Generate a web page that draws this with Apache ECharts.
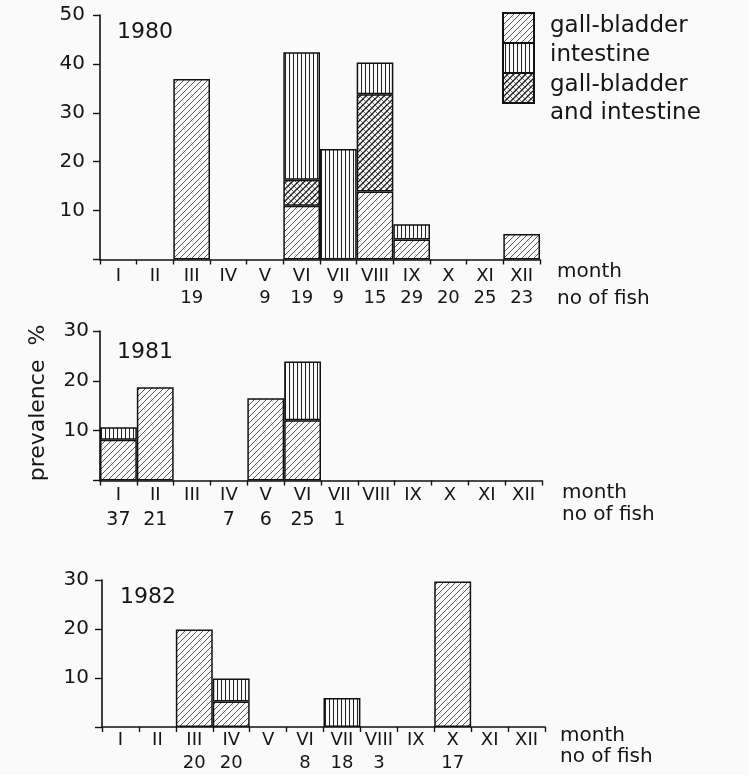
<!DOCTYPE html>
<html>
<head>
<meta charset="utf-8">
<script src="https://cdn.jsdelivr.net/npm/echarts@6/dist/echarts.min.js"></script>
<style>html,body{margin:0;padding:0;background:#fafafa;}#c{width:749px;height:775px;}</style>
</head>
<body>
<div id="c"></div>
<script>
// ---- data ----
const months = ['I','II','III','IV','V','VI','VII','VIII','IX','X','XI','XII'];
const years = ['1980','1981','1982'];
const yMax = [50, 30, 30];

const fish1980 = ['', '', 19, '', 9, 19, 9, 15, 29, 20, 25, 23];
const gall1980 = [null, null, 36.9, null, null, 11.0, null, 13.9, 4.1, null, null, 5.2];
const both1980 = [null, null, null, null, null, 5.3, null, 19.9, null, null, null, null];
const int1980  = [null, null, null, null, null, 26.1, 22.6, 6.5, 3.1, null, null, null];

const fish1981 = [37, 21, '', 7, 6, 25, 1, '', '', '', '', ''];
const gall1981 = [8.2, 18.7, null, null, 16.5, 12.1, null, null, null, null, null, null];
const both1981 = [null, null, null, null, null, null, null, null, null, null, null, null];
const int1981  = [2.5, null, null, null, null, 11.8, null, null, null, null, null, null];

const fish1982 = ['', '', 20, 20, '', 8, 18, 3, '', 17, '', ''];
const gall1982 = [null, null, 19.9, 5.2, null, null, null, null, null, 29.7, null, null];
const both1982 = [null, null, null, null, null, null, null, null, null, null, null, null];
const int1982  = [null, null, null, 4.7, null, null, 5.9, null, null, null, null, null];

const legendNames = ['gall-bladder', 'intestine', 'gall-bladder', 'and intestine'];

// ---- patterns ----
const BG = '#fafafa';
function mk(w, h, draw) {
  const c = document.createElement('canvas');
  c.width = w; c.height = h;
  const g = c.getContext('2d');
  g.fillStyle = BG; g.fillRect(0, 0, w, h);
  draw(g, w, h);
  return c;
}
const diagCanvas = mk(6, 6, (g) => {
  g.strokeStyle = '#444'; g.lineWidth = 0.9;
  g.beginPath();
  g.moveTo(0, 6); g.lineTo(6, 0);
  g.moveTo(-1, 1); g.lineTo(1, -1);
  g.moveTo(5, 7); g.lineTo(7, 5);
  g.stroke();
});
const vertCanvas = mk(4, 4, (g) => {
  g.fillStyle = '#222'; g.fillRect(1, 0, 1, 4);
});
const bothCanvas = mk(6, 6, (g) => {
  g.strokeStyle = '#222'; g.lineWidth = 1.4;
  g.beginPath();
  g.moveTo(0, 6); g.lineTo(6, 0);
  g.moveTo(-1, 1); g.lineTo(1, -1);
  g.moveTo(5, 7); g.lineTo(7, 5);
  g.stroke();
  g.lineWidth = 0.8; g.strokeStyle = '#444';
  g.beginPath();
  g.moveTo(0, 0); g.lineTo(6, 6);
  g.stroke();
});
const pDiag = { image: diagCanvas, repeat: 'repeat' };
const pVert = { image: vertCanvas, repeat: 'repeat' };
const pBoth = { image: bothCanvas, repeat: 'repeat' };

const FONT = 'DejaVu Sans';
const TXT = '#151515';

const grids = [
  { left: 100, top: 15, width: 440, height: 244.5 },
  { left: 100, top: 331, width: 442, height: 149.5 },
  { left: 102, top: 580, width: 443, height: 147 }
];
const fishAll = [fish1980, fish1981, fish1982];
const gallAll = [gall1980, gall1981, gall1982];
const bothAll = [both1980, both1981, both1982];
const intAll = [int1980, int1981, int1982];
const labelCfg = [
  { margin: 6, lh: 22, nf: 18 },
  { margin: 2, lh: 25, nf: 19 },
  { margin: 2, lh: 23, nf: 18 }
];
const yLabelMargin = [15, 11, 13];

const xAxes = [], yAxes = [], series = [];
for (let k = 0; k < 3; k++) {
  const fish = fishAll[k];
  xAxes.push({
    type: 'category', gridIndex: k, data: months, boundaryGap: true,
    axisLine: { lineStyle: { color: '#111', width: 1.6 } },
    axisTick: { show: true, length: 5, lineStyle: { color: '#111', width: 1.4 } },
    axisLabel: {
      interval: 0, margin: labelCfg[k].margin,
      formatter: (v, i) => '{m|' + v + '}\n{n|' + (fish[i] === '' ? ' ' : fish[i]) + '}',
      rich: {
        m: { fontFamily: FONT, fontSize: 18, lineHeight: labelCfg[k].lh, color: TXT },
        n: { fontFamily: FONT, fontSize: labelCfg[k].nf, lineHeight: labelCfg[k].lh, color: TXT }
      }
    },
    splitLine: { show: false }
  });
  yAxes.push({
    type: 'value', gridIndex: k, min: 0, max: yMax[k], interval: 10,
    axisLine: { show: true, lineStyle: { color: '#111', width: 1.6 } },
    axisTick: { show: true, length: 7, lineStyle: { color: '#111', width: 1.4 } },
    axisLabel: {
      margin: yLabelMargin[k], fontFamily: FONT, fontSize: 20, color: TXT,
      formatter: (v) => (v === 0 ? '' : String(v))
    },
    splitLine: { show: false }
  });
  const common = {
    type: 'bar', xAxisIndex: k, yAxisIndex: k, stack: 's' + k,
    barCategoryGap: '0%', barGap: '0%'
  };
  series.push(Object.assign({}, common, {
    name: 'gall-bladder', data: gallAll[k],
    itemStyle: { color: pDiag, borderColor: '#111', borderWidth: 1.5 }
  }));
  series.push(Object.assign({}, common, {
    name: 'gall-bladder and intestine', data: bothAll[k],
    itemStyle: { color: pBoth, borderColor: '#111', borderWidth: 1.5 }
  }));
  series.push(Object.assign({}, common, {
    name: 'intestine', data: intAll[k],
    itemStyle: { color: pVert, borderColor: '#111', borderWidth: 1.5 }
  }));
}

const titlePos = [[117, 21], [117, 341], [120, 586]];
const titles = years.map((y, i) => ({
  text: y, left: titlePos[i][0], top: titlePos[i][1],
  textStyle: { fontFamily: FONT, fontSize: 22, fontWeight: 'normal', color: TXT },
  padding: 0
}));

function txt(x, y, s, size, extra) {
  return Object.assign({
    type: 'text', x: x, y: y, silent: true,
    style: { text: s, fontFamily: FONT, fontSize: size, fill: TXT, textAlign: 'left', textVerticalAlign: 'middle' }
  }, extra || {});
}

const graphic = [
  // legend patches
  { type: 'rect', shape: { x: 503, y: 13, width: 31, height: 30 }, style: { fill: pDiag, stroke: '#111', lineWidth: 2 } },
  { type: 'rect', shape: { x: 503, y: 43, width: 31, height: 30 }, style: { fill: pVert, stroke: '#111', lineWidth: 2 } },
  { type: 'rect', shape: { x: 503, y: 73, width: 31, height: 30 }, style: { fill: pBoth, stroke: '#111', lineWidth: 2 } },
  txt(550, 26, legendNames[0], 23),
  txt(550, 55, legendNames[1], 23),
  txt(550, 85, legendNames[2], 23),
  txt(550, 113, legendNames[3], 23),
  // axis captions
  txt(557, 272, 'month', 20), txt(557, 299, 'no of fish', 20),
  txt(562, 493, 'month', 20), txt(562, 515, 'no of fish', 20),
  txt(560, 736, 'month', 20), txt(560, 757, 'no of fish', 20),
  // y axis name
  {
    type: 'text', x: 38, y: 403, rotation: Math.PI / 2, silent: true,
    style: { text: 'prevalence  %', fontFamily: FONT, fontSize: 22, fill: TXT, textAlign: 'center', textVerticalAlign: 'middle' }
  }
];

const chart = echarts.init(document.getElementById('c'), null, { renderer: 'canvas' });
chart.setOption({
  backgroundColor: BG,
  animation: false,
  title: titles,
  grid: grids,
  xAxis: xAxes,
  yAxis: yAxes,
  series: series,
  graphic: graphic
});
</script>
</body>
</html>
